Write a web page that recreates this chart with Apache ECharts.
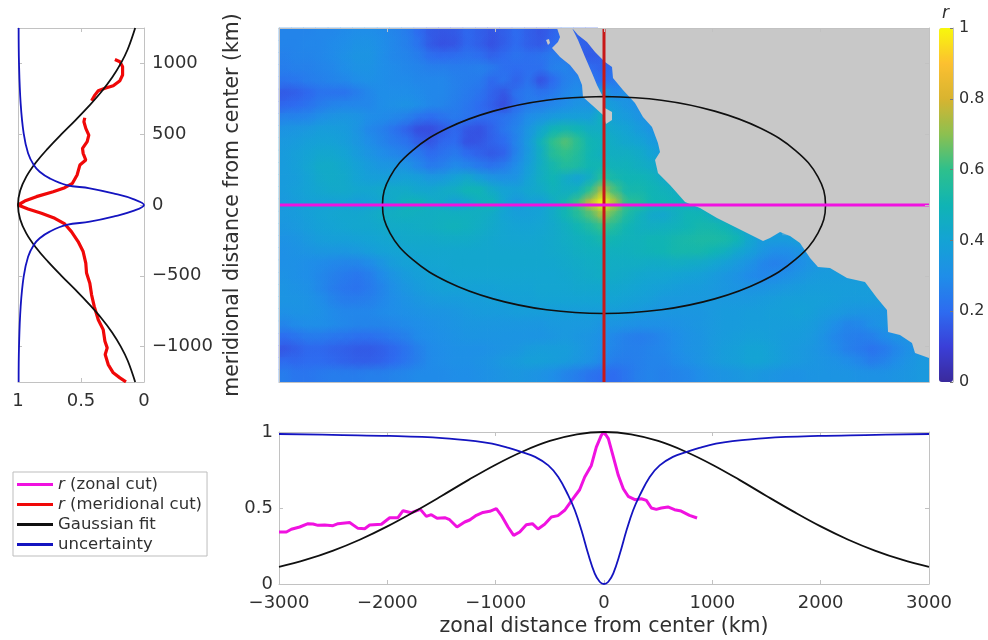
<!DOCTYPE html>
<html><head><meta charset="utf-8">
<style>html,body{margin:0;padding:0;background:#fff}#c{width:988px;height:640px}</style>
<script src="https://cdn.jsdelivr.net/npm/echarts@6/dist/echarts.min.js"></script>
</head><body><div id="c"></div>
<script>
// ---------- r map, percent, top row to bottom row; rows stop where land begins
const mapRows = [
[27,27,27,28,28,29,30,30,29,27,25,20,16,15,16,19,17,15,17,20,17,15,18,22,18,16],
[27,27,28,28,29,30,32,32,30,28,26,22,16,14,15,19,17,14,17,20,17,16,20,22,18,17,17],
[26,27,27,28,29,31,33,33,30,28,27,25,21,20,21,22,21,18,20,22,21,22,25,24,17,16,17,18],
[25,26,26,27,28,30,32,32,30,29,28,27,26,26,25,25,26,24,21,20,21,21,26,27,24,20,18,22,23],
[22,23,25,26,27,28,30,31,30,29,29,28,28,28,26,25,24,19,22,18,22,14,20,26,28,24,20,24,28],
[16,17,19,22,22,22,25,28,30,30,30,29,28,28,26,24,22,18,15,22,24,22,24,28,30,28,39,28,31,28],
[19,20,22,25,27,28,28,28,30,31,32,30,28,27,25,23,20,17,13,21,25,26,28,30,33,33,40,36,33,30,30],
[27,27,28,31,33,34,33,30,29,28,26,22,20,22,24,22,20,20,22,25,30,33,36,38,38,38,47,38,36,33,31,30],
[33,34,35,37,37,36,33,28,26,22,18,13,13,16,19,15,14,18,23,27,34,42,50,52,50,46,45,42,40,36,33,30,30],
[35,36,38,39,39,37,34,30,27,24,22,17,15,19,20,14,15,18,20,27,36,48,60,64,58,50,48,44,42,40,36,34,32],
[36,38,40,42,42,40,36,33,30,28,26,24,20,22,24,20,18,16,18,27,36,46,57,60,56,50,47,46,46,44,40,36,33],
[36,38,41,44,44,42,39,36,34,34,33,28,24,26,29,27,24,22,25,30,38,46,52,56,54,50,51,48,48,46,44,40,36],
[36,37,40,43,44,43,40,38,38,38,39,38,35,36,40,43,38,34,32,33,40,46,50,44,40,46,58,52,50,50,48,44,40,36],
[36,38,40,42,43,43,42,42,43,44,44,42,42,44,46,50,50,44,40,39,42,44,48,46,48,60,76,62,52,52,50,48,46,42,38],
[35,37,39,39,39,40,37,39,42,44,48,49,45,43,38,42,47,49,40,34,39,38,45,52,62,78,100,74,58,56,50,50,48,45,42,38,36],
[35,36,38,40,41,42,42,43,45,46,47,46,46,47,47,47,46,44,40,38,38,40,44,50,56,63,73,63,54,48,43,42,46,50,50,46,40,36,36],
[34,35,37,39,40,41,42,42,43,44,44,45,46,47,48,47,45,43,41,40,40,41,43,46,50,54,60,55,50,47,46,47,48,50,52,52,50,44,38,36,36],
[32,33,35,37,38,38,39,40,41,42,43,43,43,44,44,44,43,42,41,41,41,42,43,45,47,49,52,50,48,48,50,50,52,53,54,54,53,50,42,36,36,36,38,38],
[31,32,33,34,34,34,35,37,39,40,41,42,42,42,42,42,42,42,42,42,42,42,43,44,46,47,47,47,47,48,49,50,52,52,52,50,47,42,38,34,30,30,32,34,36,36],
[31,31,30,29,28,27,27,29,33,37,39,40,41,41,42,42,42,42,42,42,42,42,42,43,44,45,46,45,45,45,44,44,45,44,43,41,38,35,32,28,26,27,30,33,35,36,36,36],
[32,31,30,28,26,24,23,25,29,33,36,38,39,40,41,41,41,41,41,41,41,41,41,42,43,44,45,44,43,42,41,41,40,39,38,36,34,32,29,28,29,31,33,35,36,36,36,36,36],
[33,32,31,28,25,23,22,24,27,31,34,36,38,39,39,39,39,39,40,40,40,41,41,41,42,42,42,42,41,40,39,38,37,36,36,35,34,33,33,33,34,35,36,37,37,37,37,37,37,37,37],
[33,33,32,30,27,25,25,26,28,30,32,34,35,36,36,37,37,38,38,39,39,40,40,40,40,40,40,40,39,38,37,35,35,35,35,35,35,35,35,36,37,38,38,38,38,37,36,36,36,36,36,36],
[31,32,32,31,29,28,28,28,29,30,31,32,33,33,34,35,36,36,36,37,37,37,37,37,37,37,37,37,36,35,34,34,34,34,34,35,36,36,37,37,38,38,39,38,36,35,34,33,33,33,34,34,34],
[27,29,30,30,29,28,27,27,27,28,29,30,31,32,33,34,34,34,34,34,34,34,35,35,35,35,33,33,32,31,31,31,32,33,34,35,36,36,37,37,37,37,37,36,34,30,27,28,31,33,34,34,34],
[20,22,24,24,23,22,21,21,22,24,26,29,30,31,32,33,33,33,33,33,33,33,34,35,34,33,31,28,26,25,26,28,30,32,33,35,36,37,38,38,37,36,36,35,32,28,26,25,26,29,32,33,33],
[15,17,19,19,18,17,16,16,17,19,22,26,29,30,31,31,31,32,33,34,36,37,37,37,35,33,30,27,26,26,27,28,30,32,33,35,37,38,40,40,38,36,35,34,32,29,26,24,22,24,28,31,33],
[20,19,20,20,19,18,17,17,18,20,23,26,29,30,31,31,32,33,35,36,38,38,37,36,34,32,28,25,25,26,27,27,29,31,33,35,37,38,40,40,38,36,35,34,33,32,30,28,25,27,30,33,35],
[25,23,23,24,25,25,25,26,26,27,28,29,29,29,30,30,31,32,33,34,33,32,30,27,25,22,20,20,23,26,27,26,27,28,30,32,33,34,35,34,33,32,32,33,33,33,33,32,32,32,33,34,35]
];
const mapCols = 53;

// ---------- land outlines, km [zonal, meridional]
const landMain = [[-295,1250],[-240,1201],[-157,1151],[-83,1080],[9,1010],[74,975],[83,897],[175,812],[286,720],[360,621],[443,551],[498,438],[517,374],[471,318],[498,226],[609,141],[748,21],[886,-21],[1043,-92],[1228,-162],[1468,-254],[1532,-233],[1625,-191],[1717,-219],[1809,-268],[1902,-374],[1975,-438],[2086,-445],[2243,-516],[2409,-544],[2520,-657],[2612,-742],[2622,-897],[2732,-918],[2843,-975],[2871,-1045],[3000,-1080],[3000,1250]];
const landBaja = [[-434,1250],[-295,1250],[-240,1165],[-175,1045],[-111,932],[-65,847],[-9,763],[-9,692],[74,657],[74,600],[18,572],[-9,636],[-111,706],[-194,763],[-203,847],[-240,918],[-314,989],[-406,1045],[-480,1109],[-425,1151],[-406,1186]];
const landIsland = [[-535,1165],[-508,1172],[-498,1144],[-517,1130]];

// ---------- ellipse, km
const ellipseX = [0,529,1022,1446,1771,1975,2045,1975,1771,1446,1022,529,0,-529,-1022,-1446,-1771,-1975,-2045,-1975,-1771,-1446,-1022,-529,0];
const ellipseY = [766,740,663,542,383,198,0,-198,-383,-542,-663,-740,-766,-740,-663,-542,-383,-198,0,198,383,542,663,740,766];

// ---------- bottom panel
const zonalX = [-3000,-2932,-2886,-2809,-2732,-2686,-2640,-2578,-2502,-2455,-2348,-2271,-2209,-2163,-2055,-1978,-1902,-1855,-1778,-1695,-1640,-1594,-1541,-1470,-1425,-1357,-1286,-1240,-1178,-1117,-1055,-994,-948,-886,-834,-778,-717,-661,-609,-548,-486,-425,-363,-286,-225,-178,-117,-71,-25,0,40,86,132,178,223,285,345,391,437,483,529,590,651,712,789,859];
const zonalR = [.342,.342,.36,.375,.397,.395,.386,.388,.384,.397,.404,.366,.364,.388,.393,.436,.436,.482,.469,.491,.445,.456,.432,.436,.423,.375,.408,.421,.452,.471,.478,.496,.452,.375,.32,.342,.39,.397,.362,.393,.441,.45,.485,.561,.62,.704,.78,.9,.978,1,.956,.836,.715,.627,.577,.555,.561,.55,.5,.491,.5,.507,.489,.48,.452,.434];
const fitZonalX = [-3000,-2750,-2500,-2250,-2000,-1750,-1500,-1250,-1000,-750,-500,-250,0,250,500,750,1000,1250,1500,1750,2000,2250,2500,2750,3000];
const fitZonal = [.113,.16,.22,.293,.379,.476,.579,.685,.785,.872,.941,.985,1,.985,.941,.872,.785,.685,.579,.476,.379,.293,.22,.16,.113];
const uncZonalX = [-3000,-2410,-1980,-1492,-1186,-1033,-880,-758,-636,-514,-422,-330,-269,-208,-147,-86,-40,0,40,86,147,208,269,330,422,514,636,758,880,1033,1186,1492,1980,2410,3000];
const uncZonal = [.987,.98,.974,.96,.94,.923,.895,.868,.836,.78,.704,.583,.485,.353,.2,.07,.015,0,.015,.07,.2,.353,.485,.583,.704,.78,.836,.868,.895,.923,.94,.96,.974,.98,.987];

// ---------- left panel
const meridY = [1028,1012,976,918,878,842,824,807,776,736,null,616,588,541,494,447,400,365,318,282,212,153,122,94,59,28,0,-28,-59,-94,-134,-188,-258,-329,-411,-481,-552,-634,-716,-810,-880,-962,-1009,-1056,-1127,-1185,-1221,-1249];
const meridR = [.231,.191,.17,.17,.191,.244,.31,.363,.39,.416,null,.47,.477,.462,.438,.451,.488,.483,.462,.509,.531,.568,.629,.721,.854,.947,1,.92,.814,.708,.629,.576,.523,.483,.462,.456,.43,.416,.395,.363,.324,.31,.292,.308,.284,.244,.191,.143];
const fitMeridY = [-1250,-1100,-1000,-900,-800,-700,-600,-500,-400,-300,-200,-100,0,100,200,300,400,500,600,700,800,900,1000,1100,1250];
const fitMerid = [.07,.129,.184,.253,.338,.436,.543,.655,.762,.858,.934,.983,1,.983,.934,.858,.762,.655,.543,.436,.338,.253,.184,.129,.07];
const uncMeridY = [-1250,-1000,-718,-506,-365,-282,-235,-188,-141,-118,-82,-42,0,42,82,118,141,188,235,282,365,506,718,1000,1250];
const uncMerid = [.995,.992,.979,.955,.92,.875,.828,.748,.615,.43,.244,.085,0,.085,.244,.43,.615,.748,.828,.875,.92,.955,.979,.992,.995];

// ---------- ticks and labels
const zonalTicks = [-3000,-2000,-1000,0,1000,2000,3000];
const meridTicks = [-1000,-500,0,500,1000];
const cbarStops = ['#3a2a9c','#3a3fd8','#2d6cf0','#1f8ee8','#14a3d4','#10b4b4','#2ec08c','#8cc050','#d8b430','#fcc030','#f8f80c'];
const legendNames = ['r (zonal cut)','r (meridional cut)','Gaussian fit','uncertainty'];

const FONT = 'DejaVu Sans', INK = '#303030', EDGE = '#c2c2c2', LAND = '#c8c8c8';
const MAGENTA = '#f012e0', RED = '#f00808', BLACK = '#101010', BLUE = '#1414c0';
const pair = (a, b) => a.map((v, i) => (v === null || b[i] === null) ? [null, null] : [v, b[i]]);
const minus = v => String(v).replace('-', '\u2212');

const mapRowsN = mapRows.length;
const colKm = i => -3000 + (i + .5) * 6000 / mapCols;
const rowKm = j => 1250 - (j + .5) * 2500 / mapRowsN;
const heatData = [], softData = [];
mapRows.forEach((row, j) => row.forEach((v, i) => {
  heatData.push([i, j, v / 100]);
  softData.push([colKm(i), rowKm(j), v / 100]);
}));

const line = {show: true, onZero: false, lineStyle: {color: EDGE, width: 1}};
const tick = vals => ({show: true, inside: true, length: 4, lineStyle: {color: EDGE}, customValues: vals});
const label = (m) => ({show: true, margin: m, color: INK, fontSize: 18, fontFamily: FONT, formatter: minus});
const plain = {splitLine: {show: false}};

function softRender(params, api) {
  const c = api.coord([api.value(0), api.value(1)]);
  const col = api.visual('color');
  const R = 15;
  return {type: 'circle', shape: {cx: c[0], cy: c[1], r: R},
    style: {fill: new echarts.graphic.RadialGradient(.5, .5, .5, [
      {offset: 0, color: echarts.color.modifyAlpha(col, 1)},
      {offset: .45, color: echarts.color.modifyAlpha(col, .55)},
      {offset: 1, color: echarts.color.modifyAlpha(col, 0)}])}};
}
function landRender(params, api) {
  const poly = pts => ({type: 'polygon', shape: {points: pts.map(p => api.coord(p))}, style: {fill: LAND}});
  return {type: 'group', children: [poly(landMain), poly(landBaja), poly(landIsland)]};
}
const lineSeries = (name, x, y, data, color, width, extra) => Object.assign({
  type: 'line', name, xAxisIndex: x, yAxisIndex: y, data, symbol: 'none', silent: true,
  lineStyle: {color, width}, itemStyle: {color}, z: 6, animation: false}, extra || {});

const option = {
  animation: false,
  title: {text: 'r', left: 937, top: 0, textStyle: {fontStyle: 'italic', fontWeight: 'normal', fontSize: 17, fontFamily: FONT, color: INK}},
  grid: [
    {left: 18, top: 28, width: 126, height: 354},
    {left: 279, top: 28, width: 650, height: 354, show: true, backgroundColor: LAND, borderWidth: 0},
    {left: 279, top: 28, width: 650, height: 354},
    {left: 279, top: 432, width: 650, height: 152},
    {left: 939, top: 28, width: 14, height: 354}
  ],
  visualMap: {type: 'continuous', seriesIndex: [0, 1], dimension: 2, min: 0, max: 1, left: 939, top: 28,
    itemWidth: 14, itemHeight: 354, padding: 0, showLabel: false, calculable: false, hoverLink: false, text: null,
    inRange: {color: cbarStops}},
  legend: {orient: 'vertical', left: 13, top: 472, padding: [4, 5, 3, 4], itemGap: 3, itemWidth: 36, itemHeight: 3, icon: 'rect',
    backgroundColor: '#fff', borderColor: '#bdbdbd', borderWidth: 1, data: legendNames, selectedMode: false,
    formatter: n => n.startsWith('r ') ? '{i|r}' + n.slice(1) : n,
    textStyle: {fontFamily: FONT, fontSize: 16.5, color: INK, lineHeight: 17, rich: {i: {fontStyle: 'italic', fontFamily: FONT, fontSize: 16.5, color: INK, lineHeight: 17}}}},
  xAxis: [
    Object.assign({type: 'value', gridIndex: 0, min: 0, max: 1, inverse: true, axisLine: line, axisTick: tick([0, .5, 1]),
      axisLabel: Object.assign(label(10), {customValues: [0, .5, 1]})}, plain),
    Object.assign({type: 'value', gridIndex: 0, min: 0, max: 1, inverse: true, position: 'top', axisLine: line, axisTick: tick([.5]), axisLabel: {show: false}}, plain),
    Object.assign({type: 'value', gridIndex: 1, min: -3000, max: 3000, axisLine: line, axisTick: {show: false}, axisLabel: {show: false}, z: 10}, plain),
    Object.assign({type: 'value', gridIndex: 1, min: -3000, max: 3000, position: 'top', axisLine: line, axisTick: tick(zonalTicks), axisLabel: {show: false}, z: 10}, plain),
    {type: 'category', gridIndex: 2, show: false, data: Array.from({length: mapCols}, (_, i) => i)},
    Object.assign({type: 'value', gridIndex: 3, min: -3000, max: 3000, axisLine: line, axisTick: tick(zonalTicks),
      axisLabel: Object.assign(label(10), {customValues: zonalTicks}),
      name: 'zonal distance from center (km)', nameLocation: 'middle', nameGap: 32,
      nameTextStyle: {fontFamily: FONT, fontSize: 20.5, color: INK}}, plain),
    Object.assign({type: 'value', gridIndex: 3, min: -3000, max: 3000, position: 'top', axisLine: line, axisTick: tick(zonalTicks), axisLabel: {show: false}}, plain),
    Object.assign({type: 'value', gridIndex: 4, min: 0, max: 1, show: false}, plain)
  ],
  yAxis: [
    Object.assign({type: 'value', gridIndex: 0, min: -1250, max: 1250, position: 'right', axisLine: line, axisTick: tick(meridTicks),
      axisLabel: Object.assign(label(8), {customValues: meridTicks}),
      name: 'meridional distance from center (km)', nameLocation: 'middle', nameGap: 78, nameRotate: 90,
      nameTextStyle: {fontFamily: FONT, fontSize: 20.5, color: INK}}, plain),
    Object.assign({type: 'value', gridIndex: 0, min: -1250, max: 1250, position: 'left', axisLine: line, axisTick: tick(meridTicks), axisLabel: {show: false}}, plain),
    Object.assign({type: 'value', gridIndex: 1, min: -1250, max: 1250, position: 'left', axisLine: line, axisTick: {show: false}, axisLabel: {show: false}, z: 10}, plain),
    Object.assign({type: 'value', gridIndex: 1, min: -1250, max: 1250, position: 'right', axisLine: line, axisTick: tick(meridTicks), axisLabel: {show: false}, z: 10}, plain),
    {type: 'category', gridIndex: 2, show: false, inverse: true, data: Array.from({length: mapRowsN}, (_, i) => i)},
    Object.assign({type: 'value', gridIndex: 3, min: 0, max: 1, interval: .5, axisLine: line, axisTick: {show: true, inside: true, length: 4, lineStyle: {color: EDGE}}, axisLabel: label(6)}, plain),
    Object.assign({type: 'value', gridIndex: 3, min: 0, max: 1, interval: .5, position: 'right', axisLine: line, axisTick: {show: true, inside: true, length: 4, lineStyle: {color: EDGE}}, axisLabel: {show: false}}, plain),
    Object.assign({type: 'value', gridIndex: 4, min: 0, max: 1, interval: .2, position: 'right', axisLine: line,
      axisTick: {show: true, inside: true, length: 3, lineStyle: {color: '#777'}},
      axisLabel: {show: true, margin: 6, color: INK, fontSize: 16, fontFamily: FONT}, z: 10}, plain)
  ],
  series: [
    {type: 'heatmap', xAxisIndex: 4, yAxisIndex: 4, data: heatData, silent: true, z: 1, progressive: 0, animation: false},
    {type: 'custom', xAxisIndex: 2, yAxisIndex: 2, data: softData, renderItem: softRender, clip: true, silent: true, z: 2,
      encode: {x: 0, y: 1}, progressive: 0, animation: false},
    {type: 'custom', xAxisIndex: 2, yAxisIndex: 2, data: [[0, 0]], renderItem: landRender, clip: true, silent: true, z: 3,
      encode: {x: 0, y: 1}, animation: false},
    lineSeries('ellipse', 2, 2, pair(ellipseX, ellipseY), BLACK, 1.6, {smooth: .4, z: 5}),
    lineSeries('meridional section', 2, 2, [[0, -1250], [0, 1250]], '#c81818', 3, {z: 5}),
    lineSeries('zonal section', 2, 2, [[-3000, 0], [3000, 0]], MAGENTA, 3, {z: 5}),
    lineSeries(legendNames[0], 5, 5, pair(zonalX, zonalR), MAGENTA, 3),
    lineSeries(legendNames[2], 5, 5, pair(fitZonalX, fitZonal), BLACK, 1.8, {smooth: .4}),
    lineSeries(legendNames[3], 5, 5, pair(uncZonalX, uncZonal), BLUE, 1.8, {smooth: .4}),
    lineSeries(legendNames[1], 0, 0, pair(meridR, meridY), RED, 3.2, {connectNulls: false}),
    lineSeries('fit meridional', 0, 0, pair(fitMerid, fitMeridY), BLACK, 1.8, {smooth: .4}),
    lineSeries('uncertainty meridional', 0, 0, pair(uncMerid, uncMeridY), BLUE, 1.8, {smooth: .4})
  ]
};
const chart = echarts.init(document.getElementById('c'), null, {renderer: 'canvas'});
chart.setOption(option);
</script></body></html>
